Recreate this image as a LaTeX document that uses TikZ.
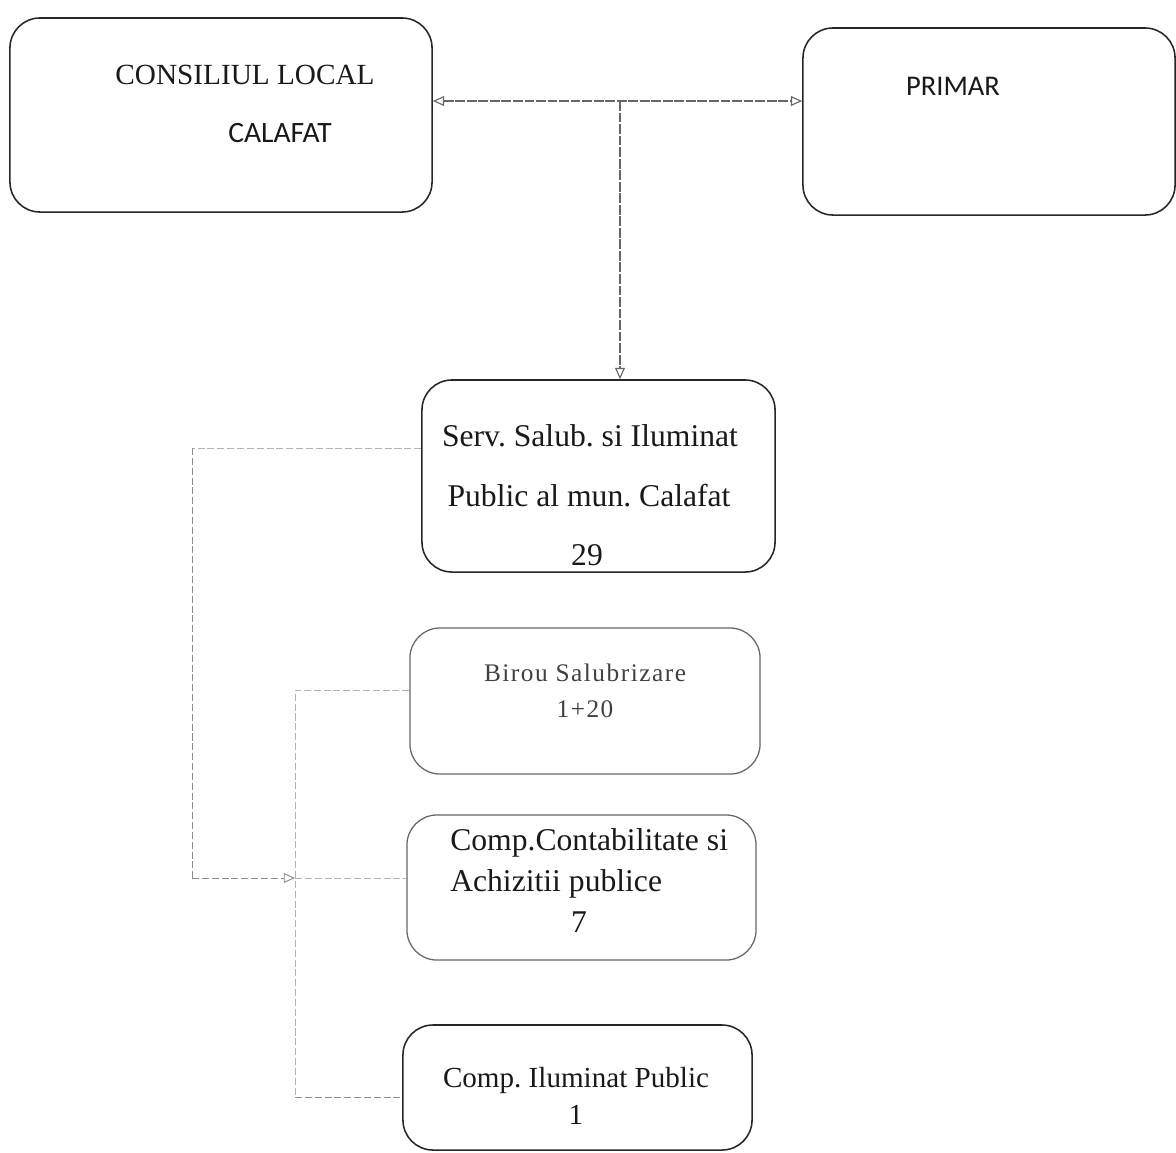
\documentclass[tikz,border=0pt]{standalone}
\usepackage{fontspec}
\setmainfont{Liberation Serif}
\newfontfamily\calib{Carlito}
\newfontfamily\biroufont{Liberation Serif}[LetterSpace=6]
\usetikzlibrary{arrows.meta,calc}
\frenchspacing
\begin{document}
\frenchspacing
\begin{tikzpicture}[x=0.025cm,y=-0.025cm,
  box/.style={draw=black!85,line width=1.1pt,rounded corners=0.75cm,inner sep=0pt},
  lightbox/.style={box,draw=black!60,line width=0.9pt},
  txt/.style={inner sep=0pt,text=black!90},
  conn/.style={draw=black!60,line width=0.8pt,dash pattern=on 7pt off 1.2pt},
  conn2/.style={draw=black!45,line width=0.7pt,dash pattern=on 5pt off 2pt},
  conn3/.style={draw=black!30,line width=0.7pt,dash pattern=on 5pt off 2pt},
  tip/.style={Triangle[open,length=8pt,width=7pt]}]
\useasboundingbox (0,0) rectangle (1176,1152);
% boxes
\node[box,minimum width=10.55cm,minimum height=4.85cm] (cl) at (221,115) {};
\node[box,minimum width=9.3cm,minimum height=4.675cm] (primar) at (989,121.5) {};
\node[box,minimum width=8.825cm,minimum height=4.8cm] (serv) at (598.5,476) {};
\node[lightbox,minimum width=8.75cm,minimum height=3.65cm] (birou) at (585,701) {};
\node[lightbox,minimum width=8.725cm,minimum height=3.625cm] (contab) at (581.5,887.5) {};
\node[box,minimum width=8.725cm,minimum height=3.125cm] (ilum) at (577.5,1087.5) {};
% texts
\node[txt,font=\fontsize{20.8}{24}\selectfont] (t1) at (245,75) {CONSILIUL LOCAL};
\node[txt,font=\calib\fontsize{21}{24}\selectfont] (t2) at (280,133) {CALAFAT};
\node[txt,font=\calib\fontsize{20.3}{24}\selectfont] (t3) at (953,86) {PRIMAR};
\node[txt,font=\fontsize{22.5}{26}\selectfont] (t4) at (590,436) {Serv. Salub. si Iluminat};
\node[txt,font=\fontsize{22.5}{26}\selectfont] (t5) at (589,496) {Public al mun. Calafat};
\node[txt,font=\fontsize{22.5}{26}\selectfont] (t6) at (587,555) {29};
\node[txt,text=black!75,font=\biroufont\fontsize{18}{22}\selectfont] (t7) at (585,673) {Birou Salubrizare};
\node[txt,text=black!75,font=\biroufont\fontsize{18}{22}\selectfont] (t8) at (585,709) {1+20};
\node[txt,anchor=west,font=\fontsize{22.5}{26}\selectfont] (t9) at (450,843) {Comp.Contabilitate si};
\node[txt,anchor=west,font=\fontsize{22.5}{26}\selectfont] (t10) at (450,884) {Achizitii publice};
\node[txt,font=\fontsize{22.5}{26}\selectfont] (t11) at (579,922) {7};
\node[txt,font=\fontsize{20.7}{24}\selectfont] (t12) at (576,1080) {Comp. Iluminat Public};
\node[txt,font=\fontsize{20.7}{24}\selectfont] (t13) at (576,1115) {1};
% connectors
\coordinate (j) at (620,101);
\coordinate (a1) at (192,448);
\coordinate (a2) at (192,878);
\coordinate (a3) at (295,878);
\coordinate (b1) at (295,690);
\coordinate (b2) at (295,1097);
\draw[conn,{Triangle[open,length=8pt,width=7pt]}-{Triangle[open,length=8pt,width=7pt]}] (cl.east |- j) -- (primar.west |- j);
\draw[conn,-{Triangle[open,length=8pt,width=7pt]}] (j) -- (serv.north -| j);
\draw[conn3] (birou.west |- b1) -- (b1) -- (b2);
\draw[conn2] (b2) -- (ilum.west |- b2);
\draw[conn3] (serv.west |- a1) -- (a1);
\draw[conn2] (a1) -- (a2);
\draw[conn2,-{Triangle[open,length=8pt,width=7pt]}] (a2) -- (a3);
\draw[conn3] (a3) -- (contab.west |- a3);
\end{tikzpicture}
\end{document}
